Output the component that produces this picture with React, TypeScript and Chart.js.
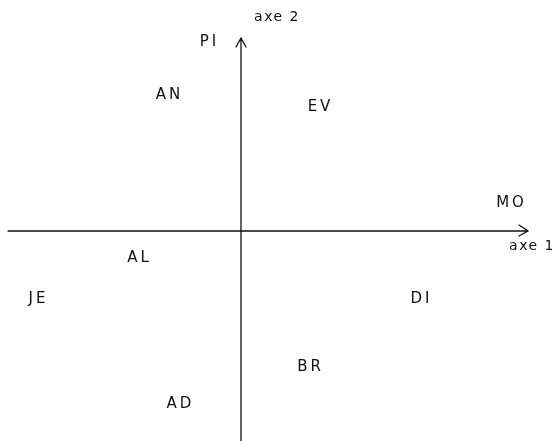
import React, { useEffect, useRef } from "react";
import { Chart, registerables } from "chart.js";

Chart.register(...registerables);

// Factor map: individuals placed on the first two axes
const labels = ["PI", "AN", "EV", "MO", "AL", "JE", "DI", "BR", "AD"];
const axis1 = [-0.33, -0.73, 0.78, 2.69, -1.03, -2.04, 1.79, 0.68, -0.62];
const axis2 = [1.89, 1.36, 1.24, 0.28, -0.27, -0.68, -0.68, -1.36, -1.73];
const axisTitles = ["axe 1", "axe 2"];

const X_RANGE = { min: -2.41, max: 3.11 };
const Y_RANGE = { min: -2.1, max: 2.31 };
const H_AXIS = { from: -2.33, to: 2.87 };
const V_AXIS = { from: -2.1, to: 1.93 };

const FONT = "15px 'DejaVu Sans', sans-serif";

const factorPlugin = {
  id: "factorPlane",
  afterDraw(chart: any) {
    const { ctx, scales } = chart;
    const xs = scales.x;
    const ys = scales.y;
    const x0 = xs.getPixelForValue(0);
    const y0 = ys.getPixelForValue(0);
    ctx.save();
    ctx.strokeStyle = "#111";
    ctx.lineWidth = 1.3;
    ctx.lineCap = "round";
    // horizontal axis with arrow
    const hx1 = xs.getPixelForValue(H_AXIS.from);
    const hx2 = xs.getPixelForValue(H_AXIS.to);
    ctx.beginPath();
    ctx.moveTo(hx1, y0);
    ctx.lineTo(hx2, y0);
    ctx.moveTo(hx2 - 9, y0 - 6);
    ctx.lineTo(hx2, y0);
    ctx.lineTo(hx2 - 9, y0 + 5);
    ctx.stroke();
    // vertical axis with arrow
    const vy1 = ys.getPixelForValue(V_AXIS.from);
    const vy2 = ys.getPixelForValue(V_AXIS.to);
    ctx.beginPath();
    ctx.moveTo(x0, vy1);
    ctx.lineTo(x0, vy2);
    ctx.moveTo(x0 - 5, vy2 + 9);
    ctx.lineTo(x0, vy2);
    ctx.lineTo(x0 + 5, vy2 + 9);
    ctx.stroke();

    ctx.fillStyle = "#111";
    ctx.textAlign = "center";
    ctx.textBaseline = "middle";
    // axis titles
    try {
      (ctx as any).letterSpacing = "1.5px";
    } catch (e) {}
    ctx.font = "14px 'DejaVu Sans', sans-serif";
    ctx.fillText(axisTitles[0], hx2 + 4, y0 + 15);
    ctx.fillText(axisTitles[1], x0 + 36, vy2 - 21);
    // point labels
    try {
      (ctx as any).letterSpacing = "3px";
    } catch (e) {}
    ctx.font = FONT;
    labels.forEach((lab, i) => {
      const px = xs.getPixelForValue(axis1[i]);
      const py = ys.getPixelForValue(axis2[i]);
      ctx.fillText(lab, px + 1.5, py);
    });
    ctx.restore();
  },
};

export default function App() {
  const ref = useRef<HTMLCanvasElement | null>(null);
  useEffect(() => {
    if (!ref.current) return;
    const chart = new Chart(ref.current, {
      type: "scatter",
      data: {
        datasets: [
          {
            label: "individus",
            data: labels.map((_, i) => ({ x: axis1[i], y: axis2[i] })),
            pointRadius: 0,
            pointHoverRadius: 0,
          },
        ],
      },
      options: {
        responsive: false,
        animation: false,
        layout: { padding: 0 },
        plugins: { legend: { display: false }, tooltip: { enabled: false } },
        scales: {
          x: { type: "linear", display: false, ...X_RANGE },
          y: { type: "linear", display: false, ...Y_RANGE },
        },
      },
      plugins: [factorPlugin],
    });
    return () => chart.destroy();
  }, []);
  return (
    <div style={{ position: "fixed", left: 0, top: 0, width: 552, height: 441, background: "#fff" }}>
      <canvas ref={ref} width={552} height={441} style={{ display: "block" }} />
    </div>
  );
}
